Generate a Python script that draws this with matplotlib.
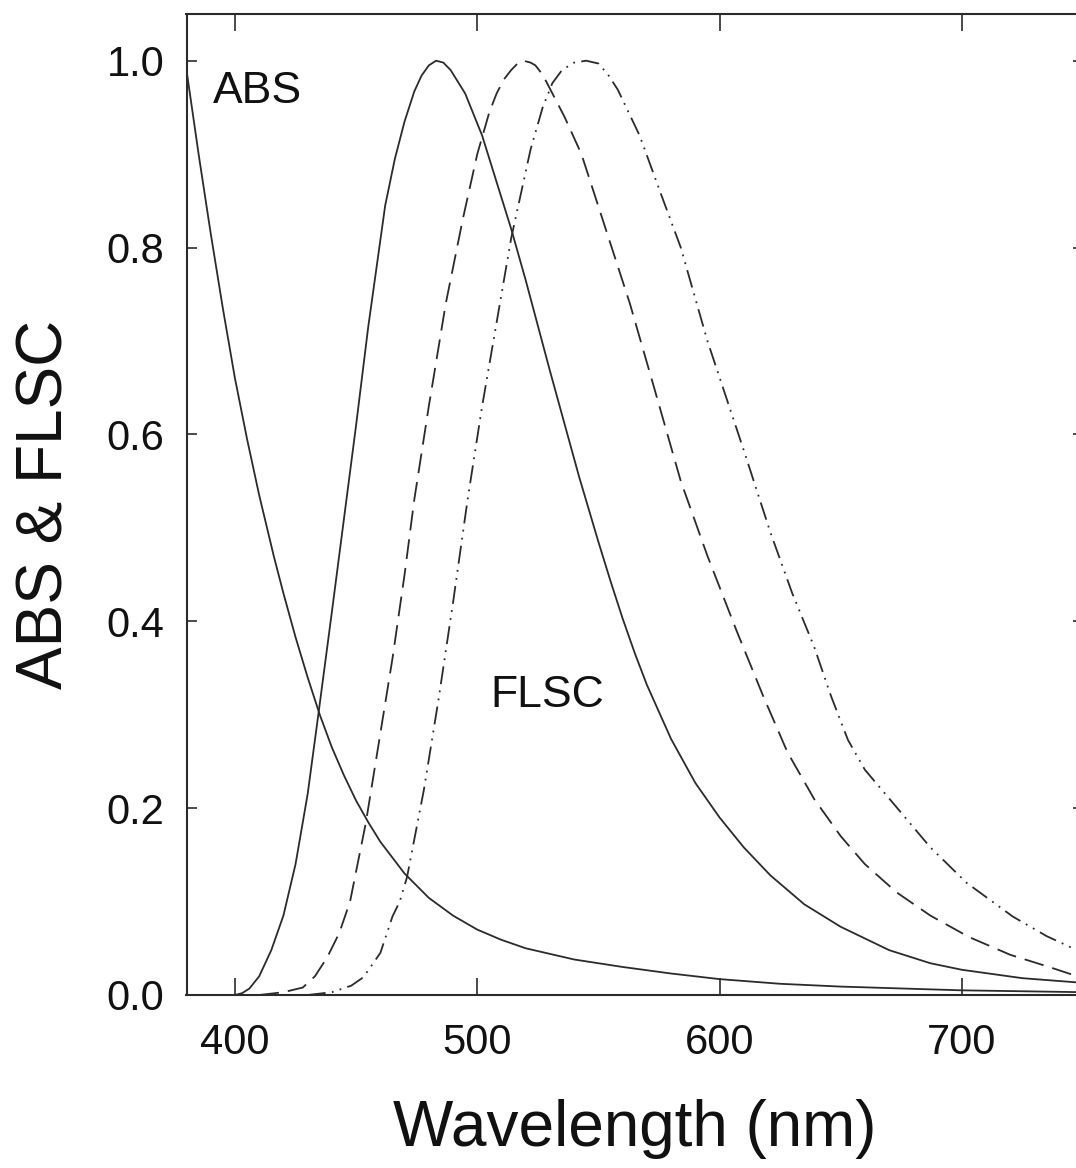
import matplotlib.pyplot as plt

plt.rcParams['font.family'] = ['Liberation Sans', 'DejaVu Sans']

# absorption spectrum
abs_wl = [380, 385, 390, 395, 400, 405, 410, 416, 420, 425, 430, 435, 440, 445, 450,
          455, 460, 470, 480, 490, 500, 510, 520, 540, 560, 580, 600, 625, 650, 675, 700,
          725, 750]
abs_val = [0.99, 0.90, 0.815, 0.735, 0.66, 0.595, 0.535, 0.47, 0.43, 0.383, 0.34, 0.30,
           0.265, 0.235, 0.208, 0.185, 0.164, 0.13, 0.104, 0.085, 0.07, 0.059, 0.050,
           0.038, 0.030, 0.023, 0.017, 0.012, 0.009, 0.007, 0.005, 0.004, 0.003]

# fluorescence, solid
fl1_wl = [400, 403, 406, 410, 415, 420, 425, 430, 434.3, 440, 445, 450, 455, 462, 466,
          470, 474, 477, 480, 483, 486, 489, 495, 502, 508, 514, 520, 530, 542, 546, 550,
          555, 560, 565, 570, 580, 590, 600, 610, 621, 635, 650, 670, 687, 700, 725, 750]
fl1_val = [0.0, 0.002, 0.007, 0.02, 0.048, 0.085, 0.14, 0.215, 0.298, 0.41, 0.51, 0.61,
           0.715, 0.845, 0.895, 0.935, 0.967, 0.984, 0.995, 1.0, 0.998, 0.99, 0.965, 0.92,
           0.87, 0.82, 0.765, 0.668, 0.555, 0.52, 0.485, 0.443, 0.403, 0.366, 0.332, 0.274,
           0.227, 0.19, 0.158, 0.128, 0.097, 0.073, 0.048, 0.034, 0.027, 0.018, 0.013]

# fluorescence, dashed
fl2_wl = [410, 420, 428, 433, 438, 443, 447.5, 454, 460, 465, 470, 474, 480, 487, 494, 500,
          505, 508, 511, 514, 517, 519, 522, 524, 527, 530, 536, 543, 553, 563, 573, 584,
          595, 607, 618, 628, 639, 650, 660, 673, 687, 703, 720, 736, 750]
fl2_val = [0.0, 0.003, 0.008, 0.02, 0.04, 0.066, 0.10, 0.184, 0.28, 0.36, 0.45, 0.53, 0.63,
           0.74, 0.83, 0.90, 0.945, 0.965, 0.98, 0.99, 0.998, 1.0, 0.998, 0.995, 0.985,
           0.97, 0.94, 0.90, 0.82, 0.74, 0.65, 0.55, 0.47, 0.39, 0.32, 0.26, 0.21, 0.17,
           0.14, 0.11, 0.085, 0.062, 0.043, 0.030, 0.018]

# fluorescence, dash-dot-dot
fl3_wl = [430, 440, 448, 453, 460, 465, 468, 471, 478, 484, 490, 496, 502, 508, 514, 522,
          527, 531, 535, 540, 545, 550, 554, 558, 567, 576, 584, 595, 610, 621, 630, 639,
          646, 653, 660, 675, 687, 702, 721, 735, 750]
fl3_val = [0.0, 0.003, 0.01, 0.019, 0.045, 0.084, 0.10, 0.126, 0.22, 0.316, 0.42, 0.53,
           0.63, 0.72, 0.81, 0.905, 0.95, 0.976, 0.99, 0.998, 1.0, 0.997, 0.985, 0.969,
           0.92, 0.856, 0.80, 0.70, 0.583, 0.495, 0.43, 0.373, 0.32, 0.273, 0.241, 0.195,
           0.158, 0.12, 0.084, 0.063, 0.045]

x_ticks = [400, 500, 600, 700]
y_ticks = [0.0, 0.2, 0.4, 0.6, 0.8, 1.0]

ink = '#2b2b2b'

fig = plt.figure(figsize=(10.76, 11.68), dpi=100)
ax = fig.add_axes([186.5 / 1076, 173 / 1168, 896.5 / 1076, 981 / 1168])

ax.plot(abs_wl, abs_val, color=ink, lw=1.3)
ax.plot(fl1_wl, fl1_val, color=ink, lw=1.3)
ax.plot(fl2_wl, fl2_val, color=ink, lw=1.3, linestyle=(0, (11, 5)))
ax.plot(fl3_wl, fl3_val, color=ink, lw=1.3, linestyle=(0, (10, 3.5, 1, 3.5, 1, 3.5)))

ax.text(391, 0.967, 'ABS', fontsize=32, color='#111111', va='center', ha='left')
ax.text(505.3, 0.321, 'FLSC', fontsize=32, color='#111111', va='center', ha='left')

ax.set_xlim(380, 750)
ax.set_ylim(0, 1.05)
ax.set_xticks(x_ticks)
ax.set_yticks(y_ticks)
ax.set_yticklabels([f'{v:.1f}' for v in y_ticks])

ax.tick_params(axis='x', direction='in', length=12, width=1.2, colors=ink,
               labelsize=30, pad=20, top=True, labelcolor='#111111')
ax.tick_params(axis='y', direction='in', length=7, width=1.2, colors=ink,
               labelsize=30, pad=16, right=True, labelcolor='#111111')
for s in ax.spines.values():
    s.set_linewidth(1.5)
    s.set_color(ink)

ax.set_xlabel('Wavelength (nm)', fontsize=46, labelpad=26, color='#111111')
ax.set_ylabel('ABS & FLSC', fontsize=46, labelpad=22, color='#111111')

fig.savefig('out.png', dpi=100)
